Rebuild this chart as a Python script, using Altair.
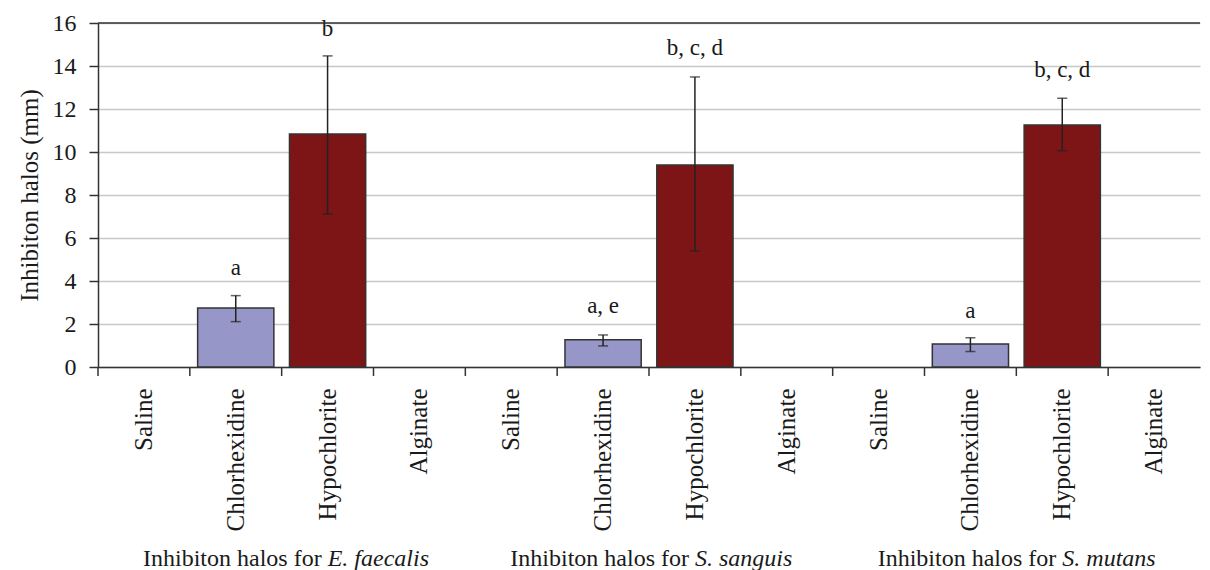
import altair as alt
import pandas as pd

# ---------------- data ----------------
groups = ["E. faecalis", "S. sanguis", "S. mutans"]
treatments = ["Saline", "Chlorhexidine", "Hypochlorite", "Alginate"]

chlor_mean = [2.74, 1.27, 1.07]
chlor_lo = [2.11, 0.98, 0.72]
chlor_hi = [3.32, 1.49, 1.36]
hypo_mean = [10.84, 9.40, 11.26]
hypo_lo = [7.12, 5.40, 10.06]
hypo_hi = [14.47, 13.49, 12.50]

chlor_letters = ["a", "a, e", "a"]
chlor_letter_y = [4.60, 2.84, 2.62]
hypo_letters = ["b", "b, c, d", "b, c, d"]
hypo_letter_y = [15.70, 14.84, 13.83]

y_ticks = [0, 2, 4, 6, 8, 10, 12, 14, 16]
group_prefix = "Inhibiton halos for"
y_title = "Inhibiton halos (mm)"

# ---------------- tables ----------------
keys = [f"{g}|{t}" for g in groups for t in treatments]

rows = []
for i, g in enumerate(groups):
    rows.append(dict(key=f"{g}|Chlorhexidine", treatment="Chlorhexidine",
                     value=chlor_mean[i], lo=chlor_lo[i], hi=chlor_hi[i],
                     letter=chlor_letters[i], ly=chlor_letter_y[i]))
    rows.append(dict(key=f"{g}|Hypochlorite", treatment="Hypochlorite",
                     value=hypo_mean[i], lo=hypo_lo[i], hi=hypo_hi[i],
                     letter=hypo_letters[i], ly=hypo_letter_y[i]))
bars_df = pd.DataFrame(rows)
keys_df = pd.DataFrame({"key": keys})
grp_df = pd.DataFrame({"anchor": [f"{g}|Hypochlorite" for g in groups],
                       "plain": [group_prefix] * len(groups),
                       "species": groups})
top_df = pd.DataFrame({"v": [16]})

W = 1102
H = 344
FONT = "Liberation Serif, serif"
DARK = "#333333"
TXT = "#1a1a1a"

xscale = alt.Scale(domain=keys, paddingInner=0, paddingOuter=0)
yscale = alt.Scale(domain=[0, 16], nice=False)

x_axis = alt.Axis(title=None, labelExpr="split(datum.value, '|')[1]",
                  labelAngle=270, labelAlign="right", labelBaseline="middle",
                  ticks=False, tickSize=0, labelPadding=21, labelFontSize=25,
                  labelFont=FONT, labelColor=TXT, domainColor=DARK,
                  domainWidth=1.5, grid=False)
y_axis = alt.Axis(title=y_title, values=y_ticks, grid=True, gridColor="#c8c8c8",
                  gridWidth=1.5, tickColor=DARK, tickSize=9, tickWidth=1.5,
                  domainColor=DARK, domainWidth=1.5, labelFontSize=24,
                  labelFont=FONT, labelColor=TXT, labelPadding=13,
                  titleFont=FONT, titleFontSize=25, titleFontWeight="normal",
                  titleColor=TXT, titlePadding=10)

base = alt.Chart(bars_df)

bars = base.mark_bar(width=alt.RelativeBandSize(0.83), stroke=DARK,
                     strokeWidth=1.5).encode(
    x=alt.X("key:N", scale=xscale, axis=x_axis, sort=keys),
    y=alt.Y("value:Q", scale=yscale, axis=y_axis),
    color=alt.Color("treatment:N", legend=None,
                    scale=alt.Scale(domain=["Chlorhexidine", "Hypochlorite"],
                                    range=["#9696c8", "#7d1416"])),
)

err = base.mark_rule(color="#222222", strokeWidth=1.5).encode(
    x=alt.X("key:N", sort=keys), y="lo:Q", y2="hi:Q")
cap_lo = base.mark_tick(color="#222222", size=10, thickness=1.5).encode(
    x=alt.X("key:N", sort=keys), y="lo:Q")
cap_hi = base.mark_tick(color="#222222", size=10, thickness=1.5).encode(
    x=alt.X("key:N", sort=keys), y="hi:Q")

letters = base.mark_text(font=FONT, fontSize=23, color=TXT,
                         baseline="middle").encode(
    x=alt.X("key:N", sort=keys), y="ly:Q", text="letter:N")

top_rule = alt.Chart(top_df).mark_rule(color=DARK, strokeWidth=1.5).encode(
    y=alt.Y("v:Q"))

xticks = alt.Chart(keys_df).mark_rule(color=DARK, strokeWidth=1.5).encode(
    x=alt.X("key:N", sort=keys, bandPosition=0),
    y=alt.value(H), y2=alt.value(H + 9))

grp_plain = alt.Chart(grp_df).mark_text(font=FONT, fontSize=24, color=TXT,
                                        align="right", baseline="middle",
                                        dx=40).encode(
    x=alt.X("anchor:N", sort=keys, bandPosition=0),
    y=alt.value(H + 192), text="plain:N")
grp_ital = alt.Chart(grp_df).mark_text(font=FONT, fontSize=24, color=TXT,
                                       fontStyle="italic", align="left",
                                       baseline="middle", dx=46).encode(
    x=alt.X("anchor:N", sort=keys, bandPosition=0),
    y=alt.value(H + 192), text="species:N")

chart = alt.layer(bars, err, cap_lo, cap_hi, letters, top_rule, xticks,
                  grp_plain, grp_ital).properties(
    width=W, height=H, background="white",
    padding={"left": 9, "top": 3, "right": 0, "bottom": 0},
).configure_view(stroke=None)

chart.save("out.html", embed_options={"renderer": "svg", "actions": False})
